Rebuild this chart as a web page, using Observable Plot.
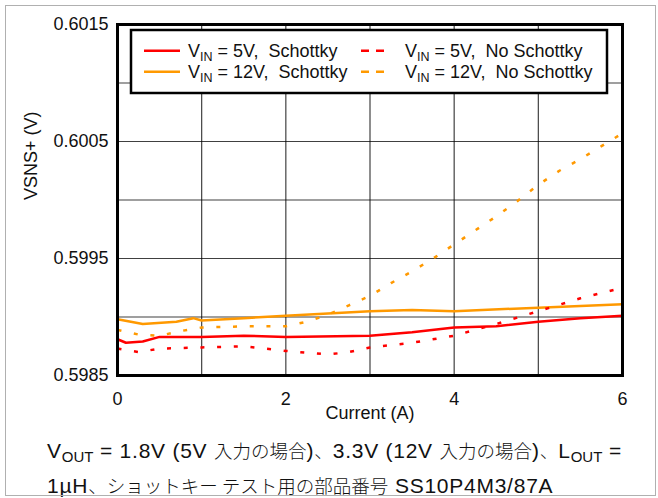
<!DOCTYPE html>
<html>
<head>
<meta charset="utf-8">
<script src="https://cdn.jsdelivr.net/npm/d3@7"></script>
<script src="https://cdn.jsdelivr.net/npm/@observablehq/plot@0.6"></script>
<style>
  html, body { margin: 0; padding: 0; background: #fff; }
  #wrap { position: relative; width: 658px; height: 498px; overflow: hidden; font-family: "Liberation Sans", Arial, "Noto Sans CJK JP", sans-serif; color: #111; }
  #border { position: absolute; left: 5px; top: 5px; width: 651px; height: 491px; border: 1px solid #b0b0b0; box-sizing: border-box; pointer-events: none; }
  #chart { position: absolute; left: 0; top: 0; }
  #legend { position: absolute; left: 0; top: 0; pointer-events: none; }
  #caption { position: absolute; left: 47px; top: 433px; font-size: 21px; line-height: 34px; white-space: nowrap; letter-spacing: 0.75px; font-family: "Liberation Sans", Arial, "Noto Sans CJK JP", sans-serif; }
  #caption .jp { font-family: "Noto Sans CJK JP", sans-serif; font-weight: 300; font-size: 18.5px; letter-spacing: 0; }
  #caption sub { font-size: 15px; vertical-align: -4px; line-height: 0; letter-spacing: 0; }
</style>
</head>
<body>
<div id="wrap">
  <div id="chart"></div>
  <div id="caption">V<sub>OUT</sub> = 1.8V (5V <span class="jp">入力の場合</span>)<span class="jp">、</span>3.3V (12V <span class="jp">入力の場合</span>)<span class="jp">、</span>L<sub>OUT</sub> =<br>1µH<span class="jp">、ショットキー テスト用の部品番号</span> SS10P4M3/87A</div>
  <div id="border"></div>
</div>
<script>
// ---- data ----
const current5S = [0, 0.1, 0.3, 0.5, 1, 1.5, 2, 3, 3.5, 4, 4.5, 5, 5.5, 6];
const vsns5S = [0.59881, 0.59878, 0.59879, 0.59883, 0.59883, 0.59884, 0.59883, 0.59884, 0.59887, 0.59891, 0.59892, 0.59896, 0.59899, 0.59901];

const current12S = [0, 0.3, 0.7, 0.9, 1.0, 1.5, 2, 3, 3.5, 4, 5, 6];
const vsns12S = [0.59898, 0.59894, 0.59896, 0.59899, 0.59897, 0.59899, 0.59901, 0.59905, 0.59906, 0.59905, 0.59908, 0.59911];

const current5N = [0, 0.25, 0.5, 1, 1.5, 2, 2.5, 2.75, 3, 3.5, 4, 4.5, 5, 5.5, 6];
const vsns5N = [0.59873, 0.59870, 0.59873, 0.59874, 0.59875, 0.59871, 0.59868, 0.59870, 0.59874, 0.59878, 0.59884, 0.59894, 0.59905, 0.59916, 0.59925];

const current12N = [0, 0.25, 0.5, 0.75, 1, 1.5, 2, 2.25, 2.5, 2.75, 3, 3.25, 3.5, 3.75, 4, 4.25, 4.5, 4.75, 5, 5.25, 5.5, 5.75, 6];
const vsns12N = [0.59889, 0.59885, 0.59884, 0.59888, 0.59891, 0.59892, 0.59892, 0.59896, 0.59902, 0.59910, 0.59918, 0.59929, 0.59939, 0.59950, 0.59962, 0.59974, 0.59986, 0.59999, 0.60013, 0.60025, 0.60035, 0.60046, 0.60057];

const seriesNames = ["5V,\u00A0 Schottky", "12V,\u00A0 Schottky", "5V,\u00A0 No Schottky", "12V,\u00A0 No Schottky"];
const seriesColors = ["#ff0000", "#ff9900", "#ff0000", "#ff9900"];
const seriesDashed = [false, false, true, true];

const xTicks = [0, 2, 4, 6];
const xGrid = [1, 2, 3, 4, 5];
const yTicks = [0.5985, 0.5995, 0.6005, 0.6015];
const yGrid = [0.5990, 0.5995, 0.6000, 0.6005, 0.6010];
const xLabel = "Current (A)";
const yLabel = "VSNS+ (V)";

const toRows = (xs, ys) => xs.map((x, i) => ({I: x, V: ys[i]}));
const seriesData = [
  toRows(current5S, vsns5S),
  toRows(current12S, vsns12S),
  toRows(current5N, vsns5N),
  toRows(current12N, vsns12N)
];

const lineMarks = seriesData.map((rows, k) =>
  Plot.line(rows, {
    x: "I", y: "V",
    stroke: seriesColors[k],
    strokeWidth: 2.5,
    strokeDasharray: seriesDashed[k] ? "4,12.7" : null,
    strokeLinecap: "butt"
  })
);

const chart = Plot.plot({
  width: 658,
  height: 432,
  marginLeft: 117,
  marginRight: 36,
  marginTop: 24,
  marginBottom: 57,
  style: {fontFamily: "'Liberation Sans', Arial, sans-serif", fontSize: "18px", color: "#111", background: "transparent"},
  x: {domain: [0, 6]},
  y: {domain: [0.5985, 0.6015]},
  marks: [
    Plot.gridX(xGrid, {stroke: "#000", strokeOpacity: 0.75, strokeWidth: 1.2}),
    Plot.gridY(yGrid, {stroke: "#000", strokeOpacity: 0.75, strokeWidth: 1.2}),
    ...lineMarks,
    Plot.frame({stroke: "#000", strokeWidth: 3}),
    Plot.axisX(xTicks, {tickSize: 0, tickPadding: 17, label: null, fontSize: 18}),
    Plot.axisY(yTicks, {tickSize: 0, tickPadding: 9, label: null, fontSize: 18, tickFormat: d => d.toFixed(4)}),
    Plot.text([xLabel], {frameAnchor: "bottom", dy: 43, fontSize: 18, fill: "#111"}),
    Plot.text([yLabel], {frameAnchor: "left", dx: -86, rotate: -90, fontSize: 18, fill: "#111"})
  ]
});
document.getElementById("chart").appendChild(chart);

// ---- legend overlay ----
const leg = d3.select("#wrap").insert("svg", "#caption")
  .attr("id", "legend").attr("width", 658).attr("height", 498);
leg.append("rect").attr("x", 131).attr("y", 30).attr("width", 476).attr("height", 63)
  .attr("fill", "#fff").attr("stroke", "#000").attr("stroke-width", 2.5);
const cols = [{sx: 144, ex: 180, tx: 188}, {sx: 361, ex: 384, tx: 405}];
const rows = [50.7, 71.7];
seriesNames.forEach((name, k) => {
  const c = cols[seriesDashed[k] ? 1 : 0];
  const y = rows[k % 2];
  leg.append("line").attr("x1", c.sx).attr("x2", c.ex).attr("y1", y).attr("y2", y)
    .attr("stroke", seriesColors[k]).attr("stroke-width", 2.5)
    .attr("stroke-dasharray", seriesDashed[k] ? "8,7" : null);
  const t = leg.append("text").attr("x", c.tx).attr("y", y + 6.3)
    .attr("font-family", "'Liberation Sans', Arial, sans-serif").attr("font-size", 18).attr("fill", "#111");
  t.append("tspan").text("V");
  t.append("tspan").attr("font-size", 12.5).attr("dy", 3.5).text("IN");
  t.append("tspan").attr("dy", -3.5).text(" = " + name);
});
</script>
</body>
</html>
